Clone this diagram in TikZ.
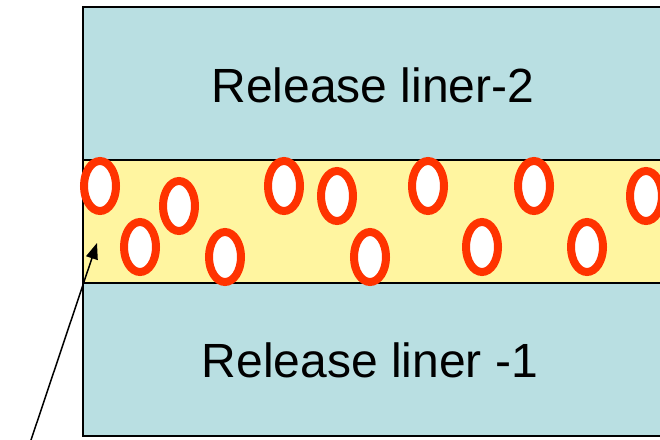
\documentclass[tikz,border=0pt]{standalone}
\usepackage{fontspec}
\setmainfont{Liberation Sans}
\usetikzlibrary{arrows.meta}
\definecolor{linerblue}{RGB}{185,223,226}
\definecolor{adhyellow}{RGB}{255,245,160}
\definecolor{bubred}{RGB}{255,51,0}
\tikzset{
  layer/.style={draw=black, line width=2pt},
  bubble/.style={draw=bubred, fill=white, line width=8pt},
  lbl/.style={font=\fontsize{48}{50}\selectfont, anchor=base, inner sep=0pt},
}
\begin{document}
\begin{tikzpicture}[x=1pt,y=-1pt]
\useasboundingbox (0,0) rectangle (660,439);
\clip (0,0) rectangle (660,439);
\fill[white] (0,0) rectangle (660,439);
% layers
\draw[layer, fill=linerblue] (83,7) rectangle (680,160);
\draw[layer, fill=linerblue] (83,283) rectangle (680,436);
\draw[layer, fill=adhyellow] (83,160) rectangle (680,283);
% bubbles
\foreach \x/\y in {100/186, 140/247, 179/206, 225/257, 284/186, 337/196,
                   370/257, 428/186, 482/247, 534/186, 587/247, 646/196}
  \draw[bubble] (\x,\y) ellipse [x radius=16, y radius=25];
% labels
\node[lbl] (top) at (373,102) {Release liner-2};
\node[lbl] (bot) at (370,377) {Release liner -1};
% pointer
\coordinate (tail) at (29,446);
\coordinate (tip) at (97,243);
\draw[line width=1.5pt, -{Triangle[length=16pt,width=12pt]}] (tail) -- (tip);
\end{tikzpicture}
\end{document}
